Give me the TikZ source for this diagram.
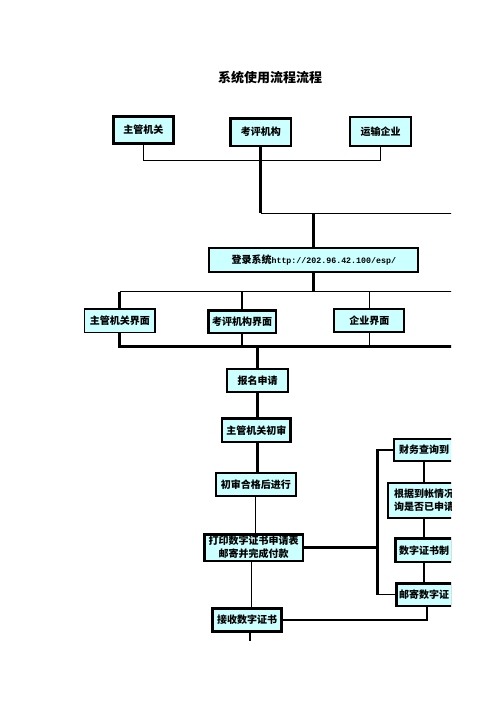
\documentclass[tikz,border=0pt]{standalone}
\usepackage{fontspec}
\newfontfamily\cjk{Noto Sans CJK SC}
\newfontfamily\urlmono{Liberation Mono}
\usetikzlibrary{calc}
\definecolor{boxcyan}{HTML}{CCFFFF}

\begin{document}
\begin{tikzpicture}[x=1pt, y=-1pt,
		flowbox/.style={draw=black, fill=boxcyan, inner sep=0pt, align=center, font=\cjk\bfseries\fontsize{10}{13.3}\selectfont},
		rimheavy/.style={line width=2.8pt},
		rimmid/.style={line width=1.9pt},
		rimlight/.style={line width=1.2pt},
		trunk/.style={line width=2.8pt},
		wire/.style={line width=1.1pt}]
			%%%%% START %%%%%
			
			\useasboundingbox (0,0) rectangle (496,702);
			\begin{scope}
			\clip (0,0) rectangle (451,702);
			
			\node[font=\cjk\bfseries\fontsize{13}{15}\selectfont] (title) at (270,77.5) {系统使用流程流程};
			
			\node[flowbox, rimheavy, minimum width=60.5pt, minimum height=27.2pt] (zgjg) at (143.4,130) {主管机关};
			\node[flowbox, rimheavy, minimum width=60.2pt, minimum height=27.8pt] (kpjg) at (260.8,132) {考评机构};
			\node[flowbox, rimmid, minimum width=61.4pt, minimum height=28.8pt] (ysqy) at (380.7,131.3) {运输企业};
			
			\node[flowbox, rimmid, minimum width=209pt, minimum height=23.5pt] (login) at (313.8,260) {登录系统{\urlmono\bfseries\fontsize{8.3}{10}\selectfont http://202.96.42.100/esp/}};
			
			\node[flowbox, rimlight, minimum width=70.5pt, minimum height=23.8pt] (zgjm) at (119.8,320.8) {主管机关界面};
			\node[flowbox, rimheavy, minimum width=67.8pt, minimum height=22.8pt] (kpjm) at (242,321.5) {考评机构界面};
			\node[flowbox, rimmid, minimum width=70pt, minimum height=23pt] (qyjm) at (369.3,320.8) {企业界面};
			
			\node[flowbox, rimmid, minimum width=61.7pt, minimum height=23pt] (bmsq) at (257.5,380.8) {报名申请};
			\node[flowbox, rimheavy, minimum width=68.5pt, minimum height=23.2pt] (zgcs) at (256.3,430.3) {主管机关初审};
			\node[flowbox, rimmid, minimum width=79.8pt, minimum height=23pt] (cshg) at (255.8,484.8) {初审合格后进行};
			\node[flowbox, rimheavy, minimum width=98.8pt, minimum height=26.8pt] (dysq) at (253.5,547.5) {打印数字证书申请表\\邮寄并完成付款};
			\node[flowbox, rimheavy, minimum width=68.8pt, minimum height=22.6pt] (jssz) at (247,620) {接收数字证书};
			
			\node[flowbox, rimmid, minimum width=60.7pt, minimum height=22.7pt] (cwcx) at (424,450) {财务查询到};
			\node[flowbox, rimmid, minimum width=71.5pt, minimum height=35.7pt] (gjdz) at (424,500.5) {根据到帐情况\\询是否已申请};
			\node[flowbox, rimheavy, minimum width=56.6pt, minimum height=23.2pt] (szzs) at (424,550.3) {数字证书制};
			\node[flowbox, rimheavy, minimum width=55.8pt, minimum height=22.8pt] (yjsz) at (424,594.5) {邮寄数字证};
			
			% top bus
			\coordinate (busA) at (380.7,160.7);
			\draw[line width=1.8pt] (zgjg.south) -- (zgjg.south |- busA);
			\draw[wire] (zgjg.south |- busA) -- (busA) -- (ysqy.south);
			
			\coordinate (edgeB) at (470,213.3);
			\draw[trunk] (kpjg.south) -- (kpjg.south |- edgeB);
			\draw[wire] (kpjg.south |- edgeB) -- (edgeB);
			\draw[trunk] (login.north |- edgeB) -- (login.north);
			
			% interfaces
			\coordinate (edgeC) at (470,291.7);
			\draw[trunk] (login.south) -- (login.south |- edgeC);
			\draw[wire] (zgjm.north |- edgeC) -- (edgeC);
			\draw[trunk] (zgjm.north |- edgeC) -- (zgjm.north);
			\draw[trunk] (kpjm.north |- edgeC) -- (kpjm.north);
			\draw[wire] (qyjm.north |- edgeC) -- (qyjm.north);
			
			\coordinate (edgeD) at (470,346.7);
			\draw[trunk] (zgjm.south) |- (edgeD);
			\draw[wire] (kpjm.south) -- (kpjm.south |- edgeD);
			\draw[wire] (qyjm.south) -- (qyjm.south |- edgeD);
			\draw[trunk] (bmsq.north |- edgeD) -- (bmsq.north);
			
			% main column
			\draw[trunk] (bmsq.south) -- (bmsq.south |- zgcs.north);
			\draw[trunk] (bmsq.south |- zgcs.south) -- (bmsq.south |- cshg.north);
			\draw[wire] (cshg.south) -- (cshg.south |- dysq.north);
			\draw[wire] ([xshift=-2pt]dysq.south) -- ([xshift=-2pt]dysq.south |- jssz.north);
			\coordinate (tail) at (250,641);
			\draw[trunk] (tail |- jssz.south) -- (tail);
			
			% right loop
			\coordinate (rtop) at (377.7,450);
			\coordinate (rbot) at (377.7,594.5);
			\draw[trunk] (dysq.east) -- (dysq.east -| rtop);
			\draw[trunk] (cwcx.west) -- (rtop) -- (rbot);
			\draw[wire] (rbot) -- (yjsz.west);
			\draw[trunk] (cwcx.south) -- (gjdz.north);
			\draw[wire] (gjdz.south) -- (szzs.north);
			\draw[wire] (szzs.south) -- (yjsz.north);
			\draw[trunk] ([xshift=3pt]yjsz.south) |- (jssz.east);
			
			\end{scope}
			
			%%%%% END %%%%%
		\end{tikzpicture}
\end{document}
